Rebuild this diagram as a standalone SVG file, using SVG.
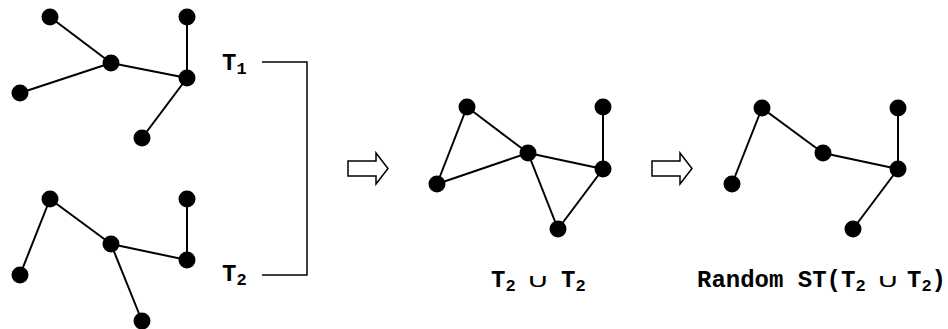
<svg xmlns="http://www.w3.org/2000/svg" width="948" height="329" viewBox="0 0 948 329">
<style>
.e{stroke:#000;stroke-width:2;fill:none}
.n{fill:#000}
.lbl{font-family:"Liberation Mono","Courier New",monospace;font-weight:bold;font-size:24px;fill:#000}
.sub{font-size:17px}
.cup{font-family:"DejaVu Sans",sans-serif;font-weight:normal;font-size:19px;fill:#000}
.arr{fill:#fff;stroke:#000;stroke-width:1.5}
.br{stroke:#000;stroke-width:1.5;fill:none}
</style>
<defs><circle id="dot" r="8.5"/></defs>
<g id="connectors">
<line class="e" x1="50" y1="17" x2="111" y2="63"/>
<line class="e" x1="20" y1="93" x2="111" y2="63"/>
<line class="e" x1="111" y1="63" x2="187" y2="78"/>
<line class="e" x1="187" y1="17" x2="187" y2="78"/>
<line class="e" x1="187" y1="78" x2="142" y2="138"/>
<line class="e" x1="20" y1="275" x2="50" y2="199"/>
<line class="e" x1="50" y1="199" x2="111" y2="244"/>
<line class="e" x1="111" y1="244" x2="187" y2="260"/>
<line class="e" x1="187" y1="199" x2="187" y2="260"/>
<line class="e" x1="111" y1="244" x2="142" y2="321"/>
<line class="e" x1="467" y1="107" x2="437" y2="184"/>
<line class="e" x1="467" y1="107" x2="528" y2="153"/>
<line class="e" x1="437" y1="184" x2="528" y2="153"/>
<line class="e" x1="528" y1="153" x2="603" y2="169"/>
<line class="e" x1="603" y1="107" x2="603" y2="169"/>
<line class="e" x1="528" y1="153" x2="558" y2="229"/>
<line class="e" x1="603" y1="169" x2="558" y2="229"/>
<line class="e" x1="732" y1="184" x2="762" y2="108"/>
<line class="e" x1="762" y1="108" x2="823" y2="153"/>
<line class="e" x1="823" y1="153" x2="898" y2="169"/>
<line class="e" x1="898" y1="108" x2="898" y2="169"/>
<line class="e" x1="898" y1="169" x2="853" y2="229"/>
<polyline class="br" points="262,62 307,62 307,275 262,275"/>
<polygon class="arr" points="348,161 376,161 376,153 388,168.5 376,184 376,176 348,176"/>
<polygon class="arr" points="652,161 680,161 680,153 692,168.5 680,184 680,176 652,176"/>
</g>
<g id="T1">
<use href="#dot" class="n" x="50" y="17"/>
<use href="#dot" class="n" x="111" y="63"/>
<use href="#dot" class="n" x="20" y="93"/>
<use href="#dot" class="n" x="187" y="17"/>
<use href="#dot" class="n" x="187" y="78"/>
<use href="#dot" class="n" x="142" y="138"/>
</g>
<g id="T2">
<use href="#dot" class="n" x="50" y="199"/>
<use href="#dot" class="n" x="20" y="275"/>
<use href="#dot" class="n" x="111" y="244"/>
<use href="#dot" class="n" x="187" y="199"/>
<use href="#dot" class="n" x="187" y="260"/>
<use href="#dot" class="n" x="142" y="321"/>
</g>
<g id="union">
<use href="#dot" class="n" x="467" y="107"/>
<use href="#dot" class="n" x="437" y="184"/>
<use href="#dot" class="n" x="528" y="153"/>
<use href="#dot" class="n" x="603" y="107"/>
<use href="#dot" class="n" x="603" y="169"/>
<use href="#dot" class="n" x="558" y="229"/>
</g>
<g id="randomST">
<use href="#dot" class="n" x="762" y="108"/>
<use href="#dot" class="n" x="732" y="184"/>
<use href="#dot" class="n" x="823" y="153"/>
<use href="#dot" class="n" x="898" y="108"/>
<use href="#dot" class="n" x="898" y="169"/>
<use href="#dot" class="n" x="853" y="229"/>
</g>
<g id="labels">
<text class="lbl" x="222" y="70">T<tspan class="sub" dy="4">1</tspan></text>
<text class="lbl" x="222" y="281">T<tspan class="sub" dy="4">2</tspan></text>
<text class="lbl" x="491" y="287">T<tspan class="sub" dy="4">2</tspan></text>
<text class="cup" transform="translate(526,287) scale(1.7,1)">∪</text>
<text class="lbl" x="561" y="287">T<tspan class="sub" dy="4">2</tspan></text>
<text class="lbl" x="697" y="287">Random ST(T<tspan class="sub" dy="4">2</tspan></text>
<text class="cup" transform="translate(876,287) scale(1.7,1)">∪</text>
<text class="lbl" x="907" y="287">T<tspan class="sub" dy="4">2</tspan><tspan dy="-4">)</tspan></text>
</g>
</svg>
